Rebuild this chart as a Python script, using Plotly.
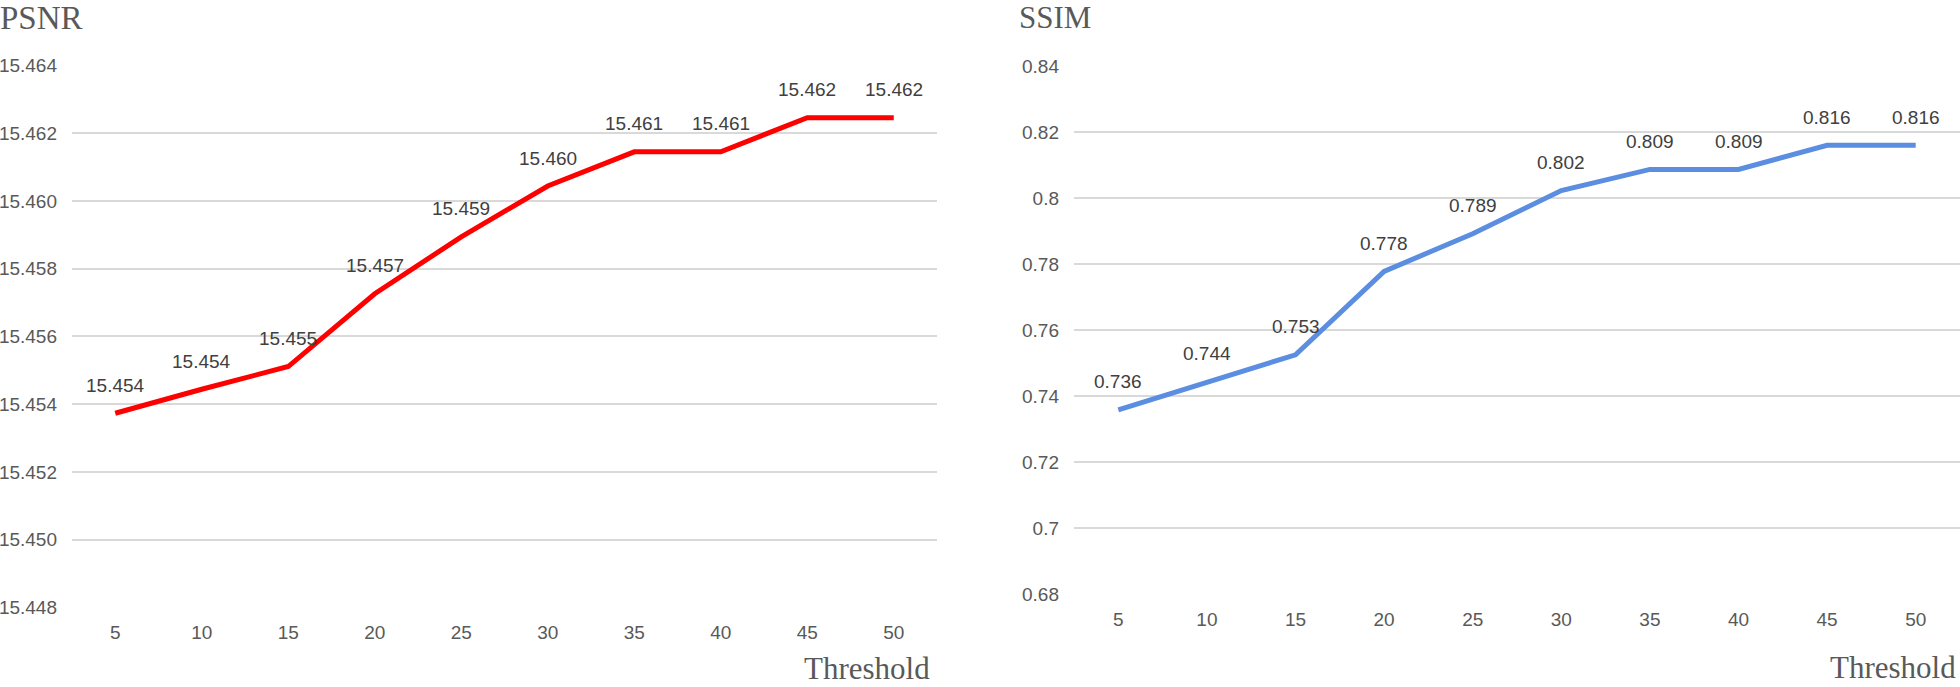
import plotly.graph_objects as go

thresholds = ["5", "10", "15", "20", "25", "30", "35", "40", "45", "50"]
psnr = [15.45373, 15.45444, 15.45511, 15.45726, 15.45894, 15.46044, 15.46145, 15.46145, 15.46246, 15.46246]
ssim = [0.7359, 0.7444, 0.7526, 0.7779, 0.7893, 0.8024, 0.8088, 0.8088, 0.8161, 0.8161]
psnr_ticks = [15.448, 15.450, 15.452, 15.454, 15.456, 15.458, 15.460, 15.462, 15.464]
ssim_ticks = [0.68, 0.70, 0.72, 0.74, 0.76, 0.78, 0.80, 0.82, 0.84]
ssim_ticktext = ["0.68", "0.7", "0.72", "0.74", "0.76", "0.78", "0.8", "0.82", "0.84"]

W, H = 1960, 687
SANS = "Arial, Liberation Sans, sans-serif"
SERIF = "Times New Roman, Liberation Serif, serif"
TICK_COL = "#595959"
LABEL_COL = "#404040"
GRID = "#d9d9d9"

fig = go.Figure()
fig.add_trace(go.Scatter(x=thresholds, y=psnr, mode="lines", line=dict(color="#ff0000", width=5),
                         xaxis="x", yaxis="y", showlegend=False, hoverinfo="skip"))
fig.add_trace(go.Scatter(x=thresholds, y=ssim, mode="lines", line=dict(color="#5b8ee0", width=5),
                         xaxis="x2", yaxis="y2", showlegend=False, hoverinfo="skip"))

annotations = []
for i, yv in enumerate(psnr):
    annotations.append(dict(x=i, y=yv, xref="x", yref="y", text=f"{yv:.3f}", showarrow=False,
                            yshift=28, font=dict(family=SANS, size=19, color=LABEL_COL)))
for i, yv in enumerate(ssim):
    annotations.append(dict(x=i, y=yv, xref="x2", yref="y2", text=f"{yv:.3f}", showarrow=False,
                            yshift=28, font=dict(family=SANS, size=19, color=LABEL_COL)))

annotations += [
    dict(text="PSNR", x=0, y=1.0, xref="paper", yref="paper", xanchor="left", yanchor="top",
         showarrow=False, xshift=-1, yshift=1, borderpad=0, font=dict(family=SERIF, size=33, color=TICK_COL)),
    dict(text="SSIM", x=1019 / W, y=1.0, xref="paper", yref="paper", xanchor="left", yanchor="top",
         showarrow=False, xshift=-1, yshift=1, borderpad=0, font=dict(family=SERIF, size=31, color=TICK_COL)),
    dict(text="Threshold", x=804 / W, y=0, xref="paper", yref="paper", xanchor="left", yanchor="bottom",
         showarrow=False, xshift=-1, yshift=0, borderpad=0, font=dict(family=SERIF, size=31, color=TICK_COL)),
    dict(text="Threshold", x=1830 / W, y=0, xref="paper", yref="paper", xanchor="left", yanchor="bottom",
         showarrow=False, xshift=-1, yshift=1, borderpad=0, font=dict(family=SERIF, size=31, color=TICK_COL)),
]

axis_common = dict(showline=False, zeroline=False, ticks="", fixedrange=True, automargin=False)

fig.update_layout(
    width=W, height=H, autosize=False,
    margin=dict(l=0, r=0, t=0, b=0, pad=0, autoexpand=False),
    paper_bgcolor="white", plot_bgcolor="white",
    showlegend=False,
    xaxis=dict(domain=[72 / W, 937 / W], anchor="y", type="category", showgrid=False,
               range=[-0.5, 9.5], categoryorder="array", categoryarray=thresholds,
               tickfont=dict(family=SANS, size=19, color=TICK_COL), ticklabelstandoff=12, **axis_common),
    yaxis=dict(domain=[(H - 607.3) / H, (H - 65.5) / H], anchor="x", range=[15.448, 15.464],
               tickvals=psnr_ticks, ticktext=[f"{v:.3f}" for v in psnr_ticks],
               showgrid=True, gridcolor=GRID, gridwidth=2,
               tickfont=dict(family=SANS, size=19, color=TICK_COL), ticklabelstandoff=14, **axis_common),
    xaxis2=dict(domain=[1074 / W, 1.0], anchor="y2", type="category", showgrid=False,
                range=[-0.5, 9.5], categoryorder="array", categoryarray=thresholds,
                tickfont=dict(family=SANS, size=19, color=TICK_COL), ticklabelstandoff=12, **axis_common),
    yaxis2=dict(domain=[(H - 594.3) / H, (H - 66.5) / H], anchor="x2", range=[0.68, 0.84],
                tickvals=ssim_ticks, ticktext=ssim_ticktext,
                showgrid=True, gridcolor=GRID, gridwidth=2,
                tickfont=dict(family=SANS, size=19, color=TICK_COL), ticklabelstandoff=14, **axis_common),
    annotations=annotations,
)

post = ("document.documentElement.style.margin='0';document.documentElement.style.padding='0';"
        "document.documentElement.style.overflow='hidden';"
        "document.body.style.margin='0';document.body.style.padding='0';document.body.style.overflow='hidden';")
fig.write_html("out.html", config={"displayModeBar": False, "responsive": False}, post_script=post)
